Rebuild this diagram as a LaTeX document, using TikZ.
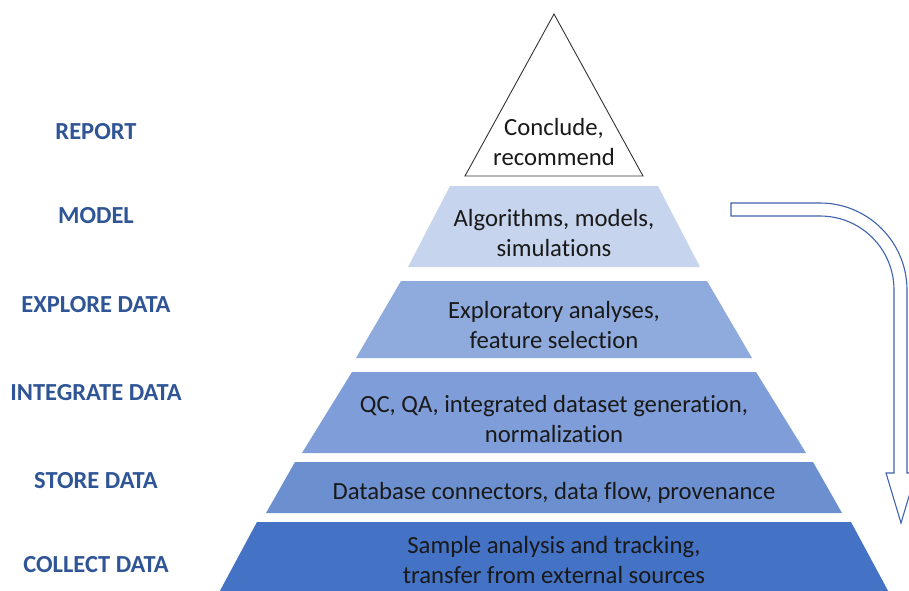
\documentclass[tikz,border=0pt]{standalone}
\usepackage{fontspec}
\setmainfont{Carlito}[Ligatures={NoCommon}]
\definecolor{lblue}{HTML}{2F5597}
\definecolor{cmodel}{HTML}{C7D4ED}
\definecolor{cexplore}{HTML}{8FAADC}
\definecolor{cintegrate}{HTML}{7F9DD8}
\definecolor{cstore}{HTML}{6C8FD0}
\definecolor{ccollect}{HTML}{4472C4}
\definecolor{arrowblue}{HTML}{3F63AD}
\newcommand\pyrlayer[5]{\fill[#5] (554-#3,#1) -- (554+#3,#1) -- (554+#4,#2) -- (554-#4,#2) -- cycle;}
\tikzset{
  body/.style={align=center, text=black!90, font=\fontsize{24.7}{29.3}\selectfont, inner sep=0pt},
  stage/.style={text=lblue, font=\bfseries\fontsize{24.5}{28}\selectfont, inner sep=0pt}
}
\begin{document}
\begin{tikzpicture}[x=1pt,y=-1pt]
\useasboundingbox (0,0) rectangle (909,590);
\fill[white] (0,0) rectangle (909,590);
\begin{scope}
\clip (0,0) rectangle (909,590);
% apex triangle
\draw[fill=white, draw=black!80, line width=0.9pt, line join=miter] (554,14) -- (643,176) -- (465,176) -- cycle;
% layers
\pyrlayer{186}{267}{104}{146}{cmodel}
\pyrlayer{281}{358}{153}{198}{cexplore}
\pyrlayer{372}{453}{202}{252}{cintegrate}
\pyrlayer{462}{513}{259}{288}{cstore}
\pyrlayer{522}{600}{297}{339}{ccollect}
% curved arrow
\draw[draw=arrowblue, fill=white, line width=1.1pt, line join=miter]
  (731,203) -- (820,203) .. controls (868,203) and (907,242) .. (907,290)
  -- (907,473) -- (916,473) -- (901,523) -- (886,473) -- (894,473) -- (894,290)
  .. controls (894,249) and (861,216) .. (820,216) -- (731,216) -- cycle;
\end{scope}
% pyramid texts
\node[body] (t1) at (554,142) {Conclude,\\recommend};
\node[body] (t2) at (554,233) {Algorithms, models,\\simulations};
\node[body] (t3) at (554,325) {Exploratory analyses,\\feature selection};
\node[body] (t4) at (554,419) {QC, QA, integrated dataset generation,\\normalization};
\node[body] (t5) at (554,493) {Database connectors, data flow, provenance};
\node[body] (t6) at (554,560) {Sample analysis and tracking,\\transfer from external sources};
% stage labels
\node[stage] (s1) at (96,132) {REPORT};
\node[stage] (s2) at (96,216) {MODEL};
\node[stage] (s3) at (96,305) {EXPLORE DATA};
\node[stage] (s4) at (96,393) {INTEGRATE DATA};
\node[stage] (s5) at (96,481) {STORE DATA};
\node[stage] (s6) at (96,565) {COLLECT DATA};
\end{tikzpicture}
\end{document}
